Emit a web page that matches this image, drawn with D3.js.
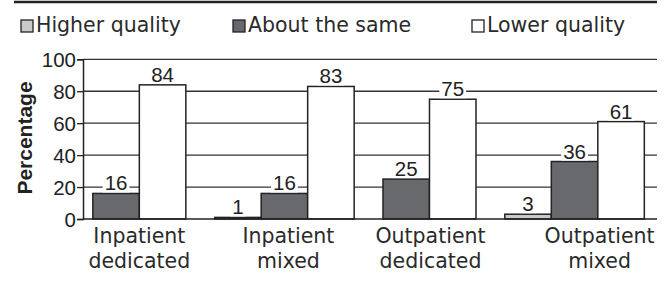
<!DOCTYPE html>
<html>
<head>
<meta charset="utf-8">
<script src="https://cdn.jsdelivr.net/npm/d3@7"></script>
<style>
  body { margin: 0; background: #fff; }
  svg { display: block; }
  .word { font-family: "DejaVu Sans", sans-serif; font-size: 20.5px; fill: #2a2a2a; }
  .num { font-family: "Liberation Sans", Arial, sans-serif; font-size: 20.5px; fill: #222; }
</style>
</head>
<body>
<svg id="chart" width="669" height="282"></svg>
<script>
const categories = [["Inpatient", "dedicated"], ["Inpatient", "mixed"],
                    ["Outpatient", "dedicated"], ["Outpatient", "mixed"]];
const seriesNames = ["Higher quality", "About the same", "Lower quality"];
const higher = [0, 1, 0, 3];
const same = [16, 16, 25, 36];
const lower = [84, 83, 75, 61];
const yTicks = [0, 20, 40, 60, 80, 100];

const fills = ["#c9c9c9", "#68696d", "#ffffff"];
const ink = "#222";
// small nudges of the category labels, as in the original layout
const labelShift = [0, 4, 1, 25];

const svg = d3.select("#chart");
const keys = categories.map(c => c.join(" "));
const series = [higher, same, lower];

const x = d3.scaleBand().domain(keys).range([66.8, 647.1]).padding(0);
const y = d3.scaleLinear().domain([0, 100]).range([219, 59.3]);
const barW = 46.5;
const plotLeft = 83, plotRight = 657;

// top rule
svg.append("line")
  .attr("x1", 14).attr("x2", plotRight).attr("y1", 2).attr("y2", 2)
  .attr("stroke", ink).attr("stroke-width", 2.5);

// legend
const legendX = [21, 233, 472];
const legend = svg.append("g");
seriesNames.forEach((name, i) => {
  legend.append("rect")
    .attr("x", legendX[i]).attr("y", 20).attr("width", 12).attr("height", 12)
    .attr("fill", fills[i]).attr("stroke", ink).attr("stroke-width", 1.3);
  legend.append("text").attr("class", "word")
    .attr("x", legendX[i] + 15).attr("y", 32).text(name);
});

// gridlines (behind the bars)
svg.append("g").selectAll("line")
  .data(yTicks.filter(t => t > 0))
  .join("line")
  .attr("x1", plotLeft).attr("x2", plotRight)
  .attr("y1", d => y(d)).attr("y2", d => y(d))
  .attr("stroke", "#333").attr("stroke-width", 1.3);

// bars: zero values are left out and the rest are centred in the group
const bars = [];
keys.forEach((k, gi) => {
  const present = series.map((s, si) => ({ si, v: s[gi] })).filter(d => d.v > 0);
  const cx = x(k) + x.bandwidth() / 2;
  present.forEach((d, j) => {
    bars.push({ key: k, si: d.si, v: d.v, x0: cx - present.length * barW / 2 + j * barW });
  });
});

svg.append("g").selectAll("rect")
  .data(bars)
  .join("rect")
  .attr("x", d => d.x0).attr("width", barW)
  .attr("y", d => y(d.v)).attr("height", d => y(0) - y(d.v))
  .attr("fill", d => fills[d.si])
  .attr("stroke", ink).attr("stroke-width", 1.5);

// value labels with a white box that hides the gridline behind them
const labels = svg.append("g").selectAll("g")
  .data(bars)
  .join("g")
  .attr("transform", d => `translate(${d.x0 + barW / 2},${y(d.v) - 3})`);
labels.append("text").attr("class", "num")
  .attr("text-anchor", "middle").text(d => d.v);
labels.each(function() {
  const g = d3.select(this);
  const b = g.select("text").node().getBBox();
  g.insert("rect", "text")
    .attr("x", b.x - 2).attr("y", b.y + 2).attr("width", b.width + 4).attr("height", b.height - 4)
    .attr("fill", "#fff");
});

// y axis
const yAxis = svg.append("g")
  .attr("transform", `translate(${plotLeft},0)`)
  .call(d3.axisLeft(y).tickValues(yTicks).tickSize(6).tickPadding(1));
yAxis.select(".domain").attr("stroke", ink).attr("stroke-width", 1.5);
yAxis.selectAll(".tick line").attr("stroke", ink).attr("stroke-width", 1.3);
yAxis.selectAll(".tick text").attr("class", "num").attr("dy", "0.36em").attr("fill", ink)
  .style("font-family", "'Liberation Sans', Arial, sans-serif").style("font-size", "20.5px");

// x axis baseline
svg.append("line")
  .attr("x1", plotLeft).attr("x2", plotRight).attr("y1", y(0)).attr("y2", y(0))
  .attr("stroke", ink).attr("stroke-width", 1.5);

// category labels
svg.append("g").selectAll("text")
  .data(categories)
  .join("text")
  .attr("class", "word")
  .attr("text-anchor", "middle")
  .attr("transform", (d, i) => `translate(${x(keys[i]) + x.bandwidth() / 2 + labelShift[i]},0)`)
  .each(function(d) {
    d3.select(this).selectAll("tspan").data(d).join("tspan")
      .attr("x", 0).attr("y", (t, j) => 243 + j * 25).text(t => t);
  });

// y title
svg.append("text")
  .attr("transform", "translate(32,138) rotate(-90)")
  .attr("text-anchor", "middle")
  .style("font-family", "'Liberation Sans', Arial, sans-serif")
  .style("font-size", "21px").style("font-weight", "bold").attr("fill", ink)
  .text("Percentage");
</script>
</body>
</html>
